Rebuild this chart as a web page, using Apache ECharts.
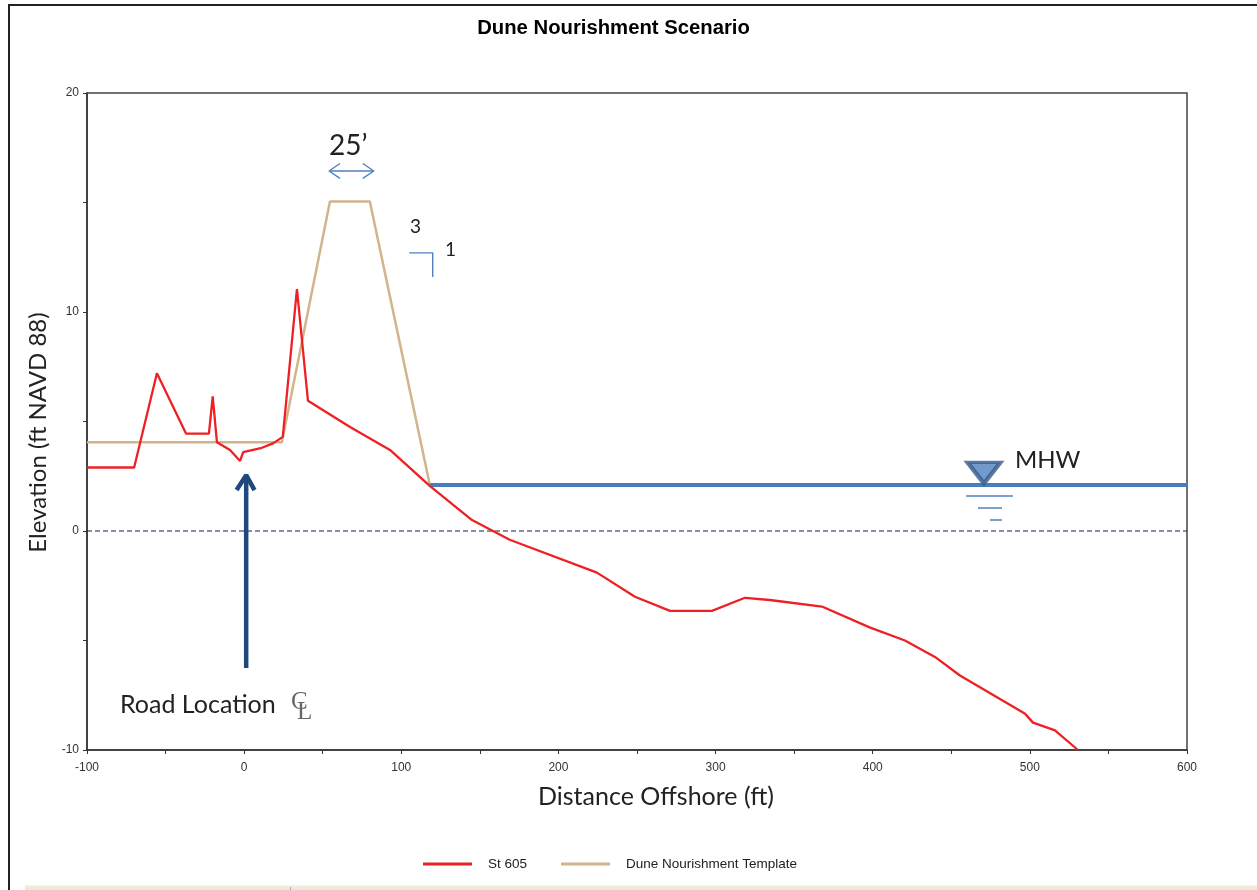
<!DOCTYPE html>
<html><head><meta charset="utf-8">
<style>html,body{margin:0;padding:0;background:#fff}#c{width:1257px;height:890px}</style>
<script src="https://cdn.jsdelivr.net/npm/echarts@6/dist/echarts.min.js"></script>
</head><body><div id="c"></div>
<script>
const st605 = [[-100,2.9],[-70,2.9],[-55.5,7.2],[-37,4.45],[-22.4,4.45],[-20,6.15],[-17.3,4.05],[-9,3.7],[-2.6,3.2],[-0.6,3.6],[11.3,3.8],[18.4,4.0],[24.6,4.3],[33.6,11.05],[40.6,5.95],[67.4,4.75],[92.8,3.7],[118.3,2.05],[145,0.5],[169,-0.4],[224.5,-1.9],[248.7,-3.0],[271,-3.65],[297.7,-3.65],[318.7,-3.05],[334.6,-3.15],[367.7,-3.45],[398,-4.4],[420.5,-5.0],[439.6,-5.75],[455.5,-6.6],[497,-8.35],[502,-8.75],[516,-9.1],[530.6,-10]];
const template = [[-100,4.05],[24,4.05],[54.6,15.05],[80,15.05],[118.3,2.05]];
const mhw = [[118.3,2.1],[600,2.1]];
const zeroLine = [[-100,0],[600,0]];
const xTickLabels = [-100,0,100,200,300,400,500,600];
const yTickLabels = [-10,0,10,20];
const roadArrow = [[1.3,-6.25],[1.3,2.4]];
const roadArrowHead = [[-4.8,1.87],[1.3,2.55],[6.6,1.87]];
const widthArrow = [[54,16.44],[82.5,16.44]];
const widthArrowL = [[61,16.78],[54,16.44],[61,16.1]];
const widthArrowR = [[75.5,16.78],[82.5,16.44],[75.5,16.1]];
const slopeMark = [[105,12.7],[120,12.7],[120,11.6]];
const mhwBars = [[[459.4,1.6],[489.3,1.6]],[[467,1.05],[482.3,1.05]],[[474.6,0.5],[482.3,0.5]]];
const mhwTriangle = [[470.8,2.65]];

const txt = (x,y,text,size,extra) => ({type:'text',x,y,silent:true,style:Object.assign({text,fill:'#222',font:size+'px Lato',textVerticalAlign:'middle'},extra||{})});
const deco = (name,data,color,width) => ({name,type:'line',data,symbol:'none',silent:true,z:4,lineStyle:{color,width},animation:false});

const chart = echarts.init(document.getElementById('c'),null,{renderer:'canvas'});
chart.setOption({
  animation:false,
  backgroundColor:'#fff',
  title:{text:'Dune Nourishment Scenario',left:608.5,top:13,textAlign:'center',textStyle:{fontFamily:'Liberation Sans',fontSize:20.3,fontWeight:'bold',color:'#000'}},
  grid:{left:87,top:93,width:1100,height:657,show:true,borderColor:'#444',borderWidth:1.5,backgroundColor:'transparent'},
  legend:{data:['St 605','Dune Nourishment Template'],left:418,top:852,itemWidth:49,itemHeight:3,itemGap:34,icon:'rect',textStyle:{fontFamily:'Liberation Sans',fontSize:13.5,color:'#222',padding:[0,0,0,11]}},
  xAxis:{type:'value',min:-100,max:600,interval:50,name:'Distance Offshore (ft)',nameLocation:'middle',nameGap:34,nameTextStyle:{fontFamily:'Lato',fontSize:25,color:'#222',padding:[0,0,0,38]},
    axisLine:{onZero:false,lineStyle:{color:'#333',width:1.5}},axisTick:{show:true,length:4,lineStyle:{color:'#333'}},splitLine:{show:false},
    axisLabel:{margin:12,fontFamily:'Liberation Sans',fontSize:12,color:'#333',showMinLabel:true,showMaxLabel:true,formatter:v=>xTickLabels.includes(v)?String(v):''}},
  yAxis:{type:'value',min:-10,max:20,interval:5,name:'Elevation (ft NAVD 88)',nameLocation:'middle',nameGap:37,nameTextStyle:{fontFamily:'Lato',fontSize:24,color:'#222',padding:[0,22,0,0]},
    axisLine:{onZero:false,lineStyle:{color:'#333',width:1.5}},axisTick:{show:true,length:4,lineStyle:{color:'#333'}},splitLine:{show:false},
    axisLabel:{margin:8,fontFamily:'Liberation Sans',fontSize:12,color:'#333',showMinLabel:true,showMaxLabel:true,formatter:v=>yTickLabels.includes(v)?String(v):''}},
  series:[
    {name:'zero',type:'line',data:zeroLine,symbol:'none',silent:true,z:1,lineStyle:{color:'#1a1a50',width:1,type:[5,3]}},
    deco('mhw',mhw,'#4a7ebb',4),
    {name:'Dune Nourishment Template',type:'line',data:template,symbol:'none',z:3,color:'#d2b48c',lineStyle:{color:'#d2b48c',width:2.5}},
    {name:'St 605',type:'line',data:st605,symbol:'none',z:5,color:'#ee2024',lineStyle:{color:'#ee2024',width:2.3}},
    deco('road',roadArrow,'#1f497d',4.5),
    deco('roadHead',roadArrowHead,'#1f497d',4.5),
    deco('w',widthArrow,'#4f81bd',1.4),
    deco('wl',widthArrowL,'#4f81bd',1.4),
    deco('wr',widthArrowR,'#4f81bd',1.4),
    deco('slope',slopeMark,'#4f81bd',1.4),
    ...mhwBars.map((b,i)=>deco('bar'+i,b,'#4f81bd',1.4)),
    {name:'tri',type:'scatter',data:mhwTriangle,symbol:'triangle',symbolRotate:180,symbolSize:[33,21],silent:true,z:6,itemStyle:{color:'#4f81bd',borderColor:'#385d8a',borderWidth:4}}
  ],
  graphic:[
    {type:'rect',silent:true,z:-1,shape:{x:25,y:885,width:1232,height:5},style:{fill:'#ece9d8'}},
    {type:'rect',silent:true,z:-1,shape:{x:25,y:885,width:1232,height:1.5},style:{fill:'#f5f3ea'}},
    {type:'rect',silent:true,shape:{x:290,y:887,width:1,height:3},style:{fill:'#aaa'}},
    {type:'rect',silent:true,shape:{x:8,y:4,width:2,height:886},style:{fill:'#222'}},
    {type:'rect',silent:true,shape:{x:8,y:4,width:1249,height:2},style:{fill:'#222'}},
    txt(329,146,'25’',28),
    txt(410,227,'3',19),
    txt(445,250,'1',19),
    txt(1015,460,'MHW',24),
    txt(120,705,'Road Location',25),
    {type:'text',x:291,y:702,silent:true,style:{text:'C',fill:'#666',font:'25px Liberation Serif',textVerticalAlign:'middle'}},
    {type:'text',x:297,y:712,silent:true,style:{text:'L',fill:'#666',font:'25px Liberation Serif',textVerticalAlign:'middle'}}
  ]
});
</script></body></html>
